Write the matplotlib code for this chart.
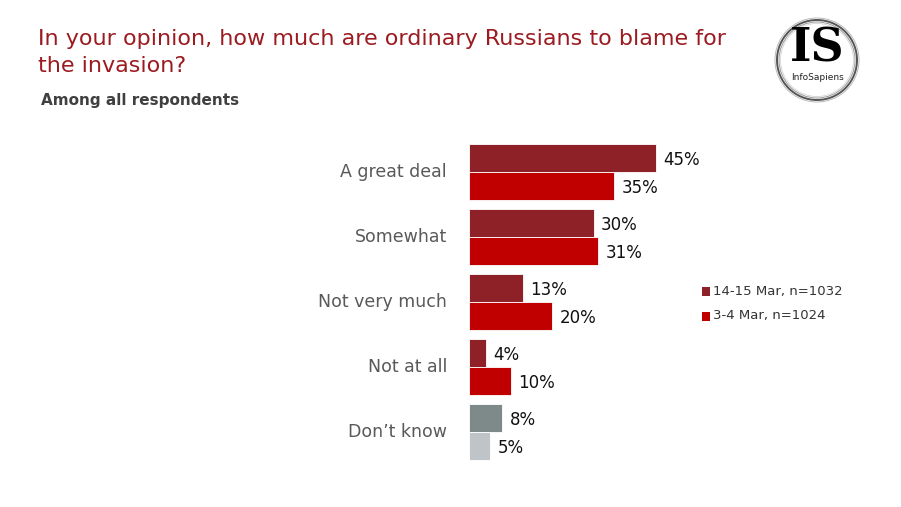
import matplotlib
matplotlib.use("Agg")
import matplotlib.pyplot as plt
from matplotlib.patches import Ellipse, Rectangle
from matplotlib.transforms import blended_transform_factory

categories = ["A great deal", "Somewhat", "Not very much", "Not at all", "Don\u2019t know"]
series_names = ["14-15 Mar, n=1032", "3-4 Mar, n=1024"]
mar14 = [45, 30, 13, 4, 8]
mar3 = [35, 31, 20, 10, 5]

c_dark = "#8E2127"
c_red = "#C00000"
c_gray_dark = "#7E8A89"
c_gray_light = "#BFC4C8"

W, H = 901, 507
fig = plt.figure(figsize=(W / 100, H / 100), dpi=100)
fig.patch.set_facecolor("white")

def fx(px):
    return px / W

def fy(py):
    return 1 - py / H

px_per_pct = 4.155
ax_left, ax_right = 469, 700
ax_top, ax_bot = 139.5, 464.5
ax = fig.add_axes([fx(ax_left), fy(ax_bot), (ax_right - ax_left) / W, (ax_bot - ax_top) / H])
ax.set_xlim(0, (ax_right - ax_left) / px_per_pct)
ax.set_ylim(4.5, -0.5)
ax.axis("off")

blend = blended_transform_factory(fig.transFigure, ax.transData)

bh = 0.43
for i, (a, b) in enumerate(zip(mar14, mar3)):
    col_a = c_gray_dark if i == 4 else c_dark
    col_b = c_gray_light if i == 4 else c_red
    ax.barh(i - bh / 2, a, height=bh, color=col_a, edgecolor="white", linewidth=0.6)
    ax.barh(i + bh / 2, b, height=bh, color=col_b, edgecolor="white", linewidth=0.6)
    ax.text(a + 1.8, i - bh / 2 + 0.03, f"{a}%", va="center", ha="left", fontsize=12, color="#111111")
    ax.text(b + 1.8, i + bh / 2 + 0.03, f"{b}%", va="center", ha="left", fontsize=12, color="#111111")
    ax.text(fx(447), i, categories[i], ha="right", va="center", fontsize=12.5, color="#595959",
            transform=blend)

# Legend
for k, (name, col) in enumerate(zip(series_names, [c_dark, c_red])):
    yy = 291 + k * 25
    fig.patches.append(Rectangle((fx(702), fy(yy + 4.5)), 8 / W, 9 / H, transform=fig.transFigure,
                                 facecolor=col, edgecolor="none"))
    fig.text(fx(713), fy(yy), name, ha="left", va="center", fontsize=9.5, color="#333333")

# Title
fig.text(fx(38), fy(39), "In your opinion, how much are ordinary Russians to blame for",
         ha="left", va="center", fontsize=16, color="#9B1B20")
fig.text(fx(38), fy(66), "the invasion?",
         ha="left", va="center", fontsize=16, color="#9B1B20")
fig.text(fx(41), fy(101), "Among all respondents", ha="left", va="center", fontsize=11,
         fontweight="bold", color="#404040")

# Logo
cx, cy, r = 817, 60, 40
for dr, lw, col in [(0, 1.4, "#555555"), (-2, 0.7, "#999999"), (2, 0.7, "#bbbbbb"), (-3.5, 0.5, "#cccccc")]:
    fig.patches.append(Ellipse((fx(cx), fy(cy)), 2 * (r + dr) / W, 2 * (r + dr) / H,
                               transform=fig.transFigure, fill=False, edgecolor=col, linewidth=lw))
fig.text(fx(cx), fy(48), "IS", ha="center", va="center", fontsize=33, fontweight="bold",
         family="DejaVu Serif", color="black")
fig.text(fx(cx), fy(77), "InfoSapiens", ha="center", va="center", fontsize=6.5, color="#222222")

fig.savefig("out.png", dpi=100, facecolor="white")
